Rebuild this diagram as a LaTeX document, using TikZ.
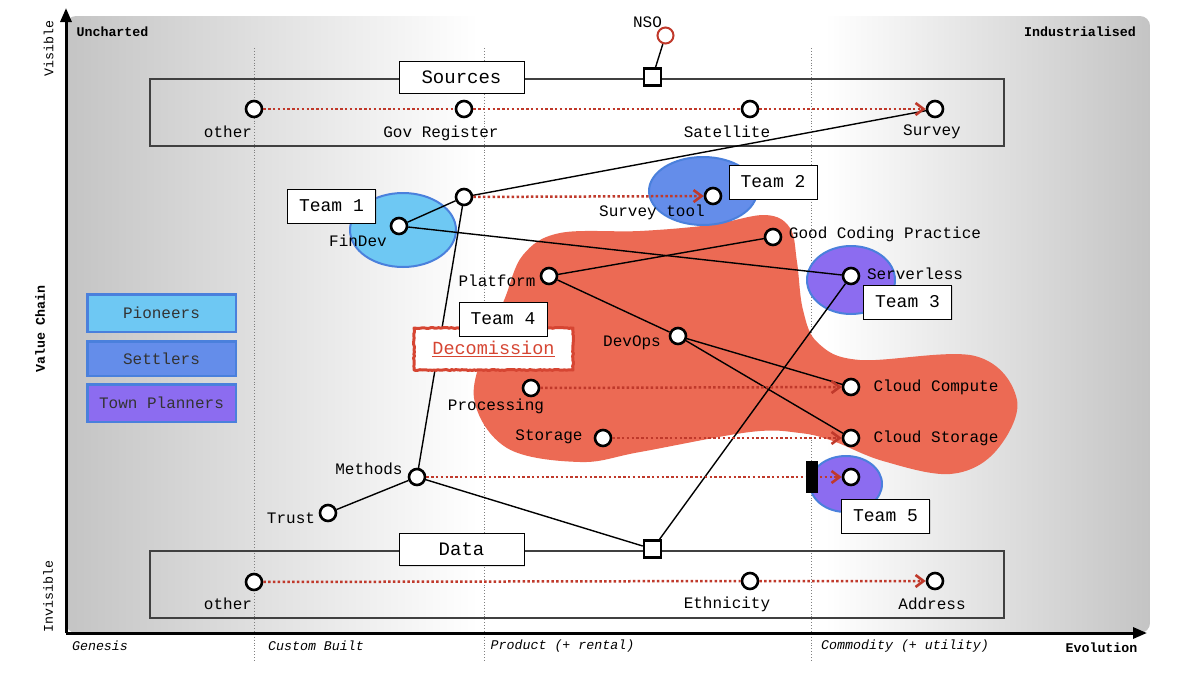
\documentclass[tikz,border=0pt]{standalone}
\usepackage{fontspec}
\setmainfont{Liberation Mono}
\usetikzlibrary{arrows.meta,calc,shadows,decorations.pathmorphing}
\definecolor{bggray}{RGB}{196,196,196}
\definecolor{blobred}{RGB}{236,106,84}
\definecolor{evored}{RGB}{192,57,43}
\definecolor{decored}{RGB}{214,69,50}
\definecolor{legendblue}{RGB}{74,128,220}
\definecolor{pioneer}{RGB}{110,200,243}
\definecolor{settler}{RGB}{100,141,234}
\definecolor{planner}{RGB}{140,108,240}
\pgfdeclarehorizontalshading{evobg}{100bp}{color(0bp)=(bggray); color(25bp)=(bggray); color(44bp)=(white); color(60bp)=(white); color(75bp)=(bggray); color(100bp)=(bggray)}

\begin{document}
\begin{tikzpicture}[x=1pt,y=-1pt,
  comp/.style={draw,circle,fill=white,line width=2.6pt,minimum size=16pt,inner sep=0pt},
  sq/.style={draw,fill=white,line width=2.5pt,minimum size=17pt,inner sep=0pt},
  lbl/.style={font=\fontsize{16}{18}\selectfont,inner sep=0pt},
  axlbl/.style={font=\fontsize{13.3}{15}\selectfont,inner sep=0pt},
  team/.style={draw,fill=white,line width=1pt,minimum width=88pt,minimum height=34pt,
    font=\fontsize{18}{20}\selectfont,drop shadow={opacity=0.25,shadow xshift=1.2pt,shadow yshift=-1.2pt}},
  grp/.style={draw=black!75,line width=1.2pt},
  grplbl/.style={draw,fill=white,line width=1pt,minimum width=125pt,minimum height=32pt,
    font=\fontsize{19}{21}\selectfont,drop shadow={opacity=0.2,shadow xshift=1pt,shadow yshift=-1pt}},
  legend/.style={draw=legendblue,line width=2.5pt,minimum width=148.5pt,text=black!80,
    font=\fontsize{16}{18}\selectfont},
  dep/.style={draw,line width=1.4pt},
  evo/.style={draw=evored,line width=2.5pt,dash pattern=on 2.5pt off 2.3pt,
    -{Straight Barb[length=8pt,width=12pt,line width=2.6pt]}},
  axis/.style={line width=3pt,-{Triangle[length=14pt,width=11pt]}},
  stage/.style={draw=black!50,line width=0.9pt,dotted},
  team area/.style={draw=legendblue,line width=2pt}]
\newcommand\mapnode[4]{
\node[comp] (#1) at (#2) {};
\node[lbl] (#1-lbl) at ($(#1)+(#4)$) {#3};
}
\useasboundingbox (0,0) rectangle (1200,675);
% landscape
\path[shading=evobg,rounded corners=10pt] (66,16) rectangle (1150,633);
\foreach \sx in {254,484,811}
  \draw[stage] (\sx,48) -- (\sx,662);
\coordinate (origin) at (66,633);
\coordinate (ytop) at (66,8);
\coordinate (xend) at (1147,633);
\draw[axis] (origin) -- (ytop);
\draw[axis] (origin) -- (xend);
\node[axlbl,rotate=90] (visible) at (48.5,48.5) {Visible};
\node[axlbl,rotate=90,font=\fontsize{13.3}{15}\selectfont\bfseries] (valuechain) at (40,329) {Value Chain};
\node[axlbl,rotate=90] (invisible) at (48,596.5) {Invisible};
\node[axlbl,font=\fontsize{13.3}{15}\selectfont\bfseries] (uncharted) at (112.5,32) {Uncharted};
\node[axlbl,font=\fontsize{13.3}{15}\selectfont\bfseries] (industrialised) at (1080,32) {Industrialised};
\node[axlbl,font=\fontsize{13.3}{15}\selectfont\itshape] (genesis) at (100,646) {Genesis};
\node[axlbl,font=\fontsize{13.3}{15}\selectfont\itshape] (custom) at (316,646) {Custom Built};
\node[axlbl,font=\fontsize{13.3}{15}\selectfont\itshape] (product) at (562.5,646) {Product (+ rental)};
\node[axlbl,font=\fontsize{13.3}{15}\selectfont\itshape] (commodity) at (905,646) {Commodity (+ utility)};
\node[axlbl,font=\fontsize{13.3}{15}\selectfont\bfseries] (evolution) at (1101.5,648) {Evolution};
% areas
\fill[blobred] plot[smooth cycle,tension=0.6] coordinates {(523,255) (560,233) (640,231) (710,225)
  (765,215) (790,228) (797,262) (803,310) (818,343) (860,360) (975,356) (1017,400) (995,452)
  (950,474) (883,461) (833,441) (800,433) (750,432) (640,452) (580,462) (507,448) (474,398)
  (490,335) (505,298)};
\path[team area,fill=pioneer] (403,230) ellipse [x radius=53pt,y radius=37pt];
\path[team area,fill=settler] (703,191) ellipse [x radius=54pt,y radius=34pt];
\path[team area,fill=planner] (851,280) ellipse [x radius=44pt,y radius=34pt];
\path[team area,fill=planner] (846,484) ellipse [x radius=36pt,y radius=28pt];
% legend
\node[legend,fill=pioneer,minimum height=37.5pt] (pioneers) at (161.5,313) {Pioneers};
\node[legend,fill=settler,minimum height=34.5pt] (settlers) at (161.5,358.5) {Settlers};
\node[legend,fill=planner,minimum height=37.5pt] (planners) at (161.5,403) {Town Planners};
% groups
\draw[grp] (150,79) rectangle (1004,146);
\draw[grp] (150,551) rectangle (1004,618);
\node[grplbl] (sources) at (461.5,77) {Sources};
\node[grplbl] (data) at (461.5,549.5) {Data};
\node[sq] (src-sq) at (652.5,77) {};
\node[sq] (dat-sq) at (652.5,549) {};
\node[comp,draw=evored,line width=2pt] (nso) at (665.5,35.5) {};
\node[lbl] (nso-lbl) at (647.5,22) {NSO};
% components
\mapnode{src-other}{254,109}{other}{-26,23}
\mapnode{govreg}{464,109}{Gov Register}{-23,24}
\mapnode{satellite}{750,109}{Satellite}{-23,23}
\mapnode{survey}{935,109}{Survey}{-3,23}
\mapnode{findev}{399,226}{FinDev}{-41,15}
\node[comp] (hub) at (464,197) {};
\mapnode{surveytool}{713,196}{Survey tool}{-61,16}
\mapnode{coding}{773,237}{Good Coding Practice}{112,-3}
\mapnode{platform}{549,276}{Platform}{-52,5}
\mapnode{serverless}{851,276}{Serverless}{64,-2}
\mapnode{devops}{678,336}{DevOps}{-46,7}
\mapnode{processing}{531,388}{Processing}{-35,18}
\mapnode{storage}{603,438}{Storage}{-54,-1}
\mapnode{compute}{851,387}{Cloud Compute}{85,0}
\mapnode{cloudstorage}{851,438}{Cloud Storage}{85,0}
\mapnode{methods}{417,477}{Methods}{-48,-8}
\mapnode{trust}{328,513}{Trust}{-37,5}
\node[comp] (t5node) at (851,477) {};
\mapnode{dat-other}{254,582}{other}{-26,22}
\mapnode{ethnicity}{750,581}{Ethnicity}{-23,23}
\mapnode{address}{935,581}{Address}{-3,23}
% links
\draw[dep] (src-sq) -- (nso);
\draw[dep] (findev) -- (hub);
\draw[dep] (findev) -- (serverless);
\draw[dep] (hub) -- (survey);
\draw[dep] (hub) -- (methods);
\draw[dep] (platform) -- (coding);
\draw[dep] (platform) -- (devops);
\draw[dep] (devops) -- (compute);
\draw[dep] (devops) -- (cloudstorage);
\draw[dep] (methods) -- (trust);
\draw[dep] (methods) -- (dat-sq);
\draw[dep] (dat-sq) -- (serverless);
% evolution
\draw[evo] (src-other) -- (govreg) -- (satellite) -- (survey);
\draw[evo] (dat-other) -- (ethnicity) -- (address);
\draw[evo] (hub) -- (surveytool);
\draw[evo] (processing) -- (compute);
\draw[evo] (storage) -- (cloudstorage);
\draw[evo] (methods) -- (t5node);
\node[fill=black,minimum width=12pt,minimum height=32pt,inner sep=0pt] (inertia) at (812,477) {};
% teams
\node[team] (team1) at (331.5,206) {Team 1};
\node[team] (team2) at (773,182) {Team 2};
\node[team] (team3) at (907.5,302) {Team 3};
\node[draw=decored,line width=3pt,line join=round,fill=white,minimum width=159pt,minimum height=42pt,
  text=decored,font=\fontsize{18.5}{20}\selectfont,decorate,
  decoration={random steps,segment length=2pt,amplitude=0.5pt},
  drop shadow={opacity=0.2,shadow xshift=1pt,shadow yshift=-1pt}] (decom) at (493.5,349) {\underline{Decomission}};
\node[team] (team4) at (503,319) {Team 4};
\node[team] (team5) at (885.5,516) {Team 5};
\end{tikzpicture}
\end{document}
